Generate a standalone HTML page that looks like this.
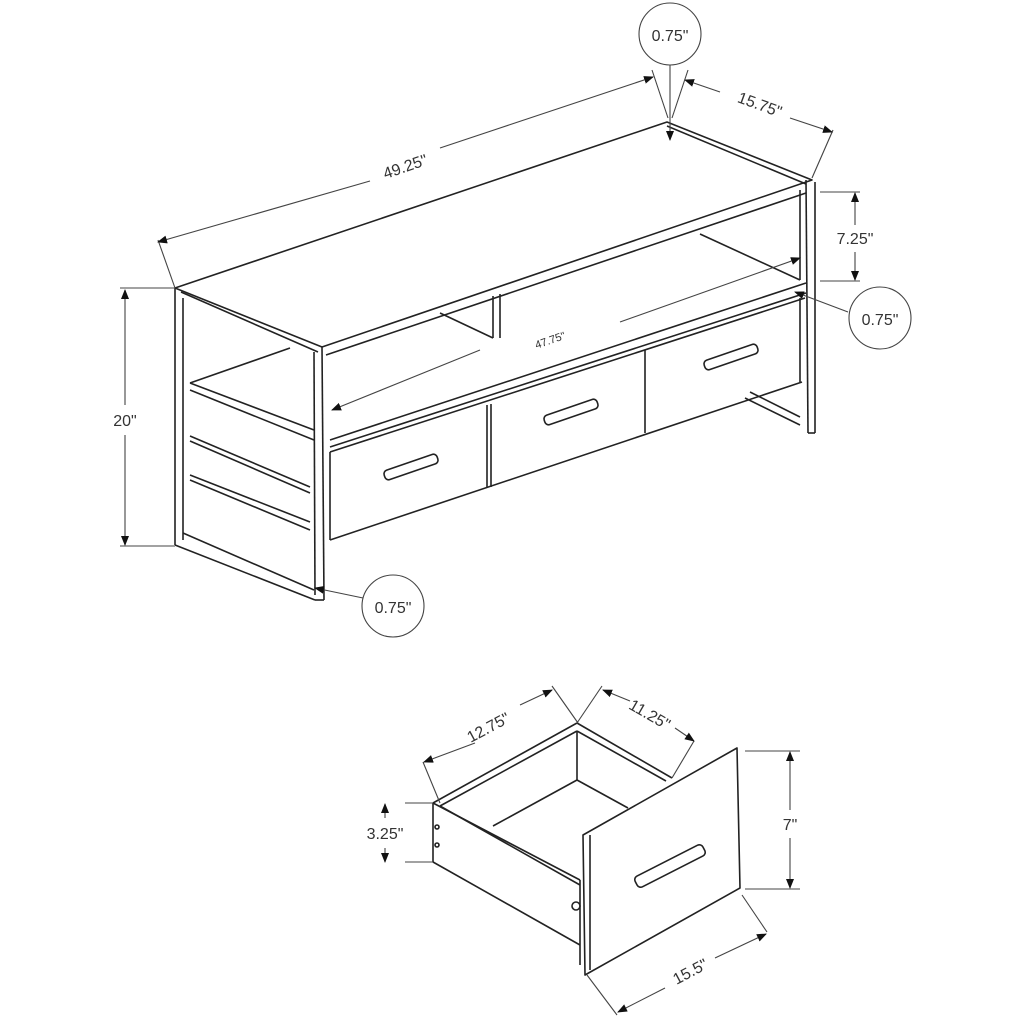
<!DOCTYPE html>
<html><head><meta charset="utf-8"><style>
html,body{margin:0;padding:0;background:#fff;}
svg{display:block}
text{font-family:"Liberation Sans",sans-serif;fill:#333;}
</style></head><body>
<svg width="1024" height="1024" viewBox="0 0 1024 1024" xmlns="http://www.w3.org/2000/svg">
<defs>
<marker id="a" markerWidth="10" markerHeight="8" refX="9" refY="4" orient="auto" markerUnits="userSpaceOnUse"><path d="M0,0 L10,4 L0,8z" fill="#111"/></marker>
</defs>
<g fill="none" stroke="#222" stroke-width="1.6" stroke-linejoin="round">
<polygon points="175,288 667,122 812,180 322,347" fill="#fff"/>
<line x1="667" y1="126" x2="806" y2="184"/>
<line x1="181" y1="292" x2="318" y2="352"/>
<line x1="326" y1="355" x2="806" y2="193"/>
<line x1="175" y1="288" x2="175" y2="545"/>
<line x1="183" y1="298" x2="183" y2="540"/>
<line x1="322" y1="347" x2="324" y2="600"/>
<line x1="314" y1="352" x2="315" y2="595"/>
<line x1="315" y1="600" x2="324" y2="600"/>
<line x1="175" y1="545" x2="315" y2="600"/>
<line x1="183" y1="533" x2="314" y2="590"/>
<line x1="190" y1="383" x2="290" y2="348"/>
<line x1="190" y1="383" x2="314" y2="430"/>
<line x1="190" y1="390" x2="314" y2="440"/>
<line x1="190" y1="436" x2="310" y2="487"/>
<line x1="190" y1="441" x2="310" y2="493"/>
<line x1="190" y1="475" x2="310" y2="522"/>
<line x1="190" y1="480" x2="310" y2="530"/>
<line x1="806" y1="180" x2="808" y2="433"/>
<line x1="815" y1="182" x2="815" y2="433"/>
<line x1="800" y1="190" x2="800" y2="280"/>
<line x1="808" y1="433" x2="815" y2="433"/>
<line x1="745" y1="398" x2="800" y2="425"/>
<line x1="750" y1="392" x2="800" y2="417"/>
<line x1="330" y1="440" x2="806" y2="283"/>
<line x1="330" y1="447" x2="806" y2="293"/>
<line x1="330" y1="452" x2="805" y2="298"/>
<line x1="700" y1="234" x2="800" y2="280"/>
<line x1="440" y1="313" x2="493" y2="338"/>
<line x1="493" y1="296" x2="493" y2="338"/>
<line x1="500" y1="294" x2="500" y2="338"/>
<line x1="330" y1="452" x2="330" y2="540"/>
<line x1="330" y1="540" x2="802" y2="382"/>
<line x1="487" y1="405" x2="487" y2="487"/>
<line x1="491" y1="404" x2="491" y2="487"/>
<line x1="645" y1="350" x2="645" y2="433"/>
<line x1="800" y1="298" x2="800" y2="382"/>
<rect x="383" y="462" width="56" height="10" rx="4" transform="rotate(-19 411 467)"/>
<rect x="543" y="407" width="56" height="10" rx="4" transform="rotate(-19 571 412)"/>
<rect x="703" y="352" width="56" height="10" rx="4" transform="rotate(-19 731 357)"/>
</g>
<g fill="none" stroke="#444" stroke-width="1.1">
<line x1="158" y1="240" x2="175" y2="288"/>
<line x1="370" y1="181" x2="158" y2="242" marker-end="url(#a)"/>
<line x1="440" y1="148" x2="653" y2="77" marker-end="url(#a)"/>
<line x1="812" y1="178" x2="833" y2="130"/>
<line x1="720" y1="92" x2="685" y2="80" marker-end="url(#a)"/>
<line x1="790" y1="118" x2="832" y2="132" marker-end="url(#a)"/>
<line x1="670" y1="65" x2="670" y2="140" marker-end="url(#a)"/>
<line x1="652" y1="70" x2="668" y2="118"/>
<line x1="688" y1="70" x2="672" y2="118"/>
<line x1="120" y1="288" x2="175" y2="288"/>
<line x1="120" y1="546" x2="175" y2="546"/>
<line x1="125" y1="405" x2="125" y2="290" marker-end="url(#a)"/>
<line x1="125" y1="435" x2="125" y2="545" marker-end="url(#a)"/>
<line x1="820" y1="192" x2="860" y2="192"/>
<line x1="820" y1="281" x2="860" y2="281"/>
<line x1="855" y1="225" x2="855" y2="193" marker-end="url(#a)"/>
<line x1="855" y1="252" x2="855" y2="280" marker-end="url(#a)"/>
<line x1="848" y1="312" x2="795" y2="292" marker-end="url(#a)"/>
<line x1="363" y1="598" x2="315" y2="588" marker-end="url(#a)"/>
<line x1="480" y1="350" x2="332" y2="410" marker-end="url(#a)"/>
<line x1="620" y1="322" x2="800" y2="258" marker-end="url(#a)"/>
<circle cx="670" cy="34" r="31" fill="#fff"/>
<circle cx="880" cy="318" r="31" fill="#fff"/>
<circle cx="393" cy="606" r="31" fill="#fff"/>
</g>
<text x="670" y="41" font-size="16" text-anchor="middle">0.75"</text>
<text x="880" y="325" font-size="16" text-anchor="middle">0.75"</text>
<text x="393" y="613" font-size="16" text-anchor="middle">0.75"</text>
<text x="125" y="426" font-size="16" text-anchor="middle">20"</text>
<text x="855" y="244" font-size="16" text-anchor="middle">7.25"</text>
<text x="405" y="172" font-size="16" text-anchor="middle" transform="rotate(-19 405 166)">49.25"</text>
<text x="760" y="110" font-size="16" text-anchor="middle" transform="rotate(20 760 104)">15.75"</text>
<text x="550" y="344" font-size="11" text-anchor="middle" transform="rotate(-19 550 340)">47.75"</text>

<g fill="none" stroke="#222" stroke-width="1.6" stroke-linejoin="round">
<polygon points="583,835 737,748 740,888 585,975" fill="#fff"/>
<line x1="590" y1="835" x2="590" y2="970"/>
<line x1="433" y1="803" x2="577" y2="723"/>
<line x1="440" y1="806" x2="577" y2="731"/>
<line x1="577" y1="723" x2="672" y2="778"/>
<line x1="577" y1="731" x2="666" y2="781"/>
<line x1="577" y1="731" x2="577" y2="780"/>
<line x1="577" y1="780" x2="628" y2="808"/>
<line x1="577" y1="780" x2="493" y2="826"/>
<line x1="433" y1="803" x2="433" y2="862"/>
<line x1="433" y1="803" x2="580" y2="880"/>
<line x1="440" y1="806" x2="580" y2="885"/>
<line x1="433" y1="862" x2="580" y2="945"/>
<line x1="580" y1="880" x2="580" y2="965"/>
<rect x="632" y="860" width="76" height="12" rx="4" transform="rotate(-27 670 866)"/>
<circle cx="576" cy="906" r="4"/>
<circle cx="437" cy="827" r="2"/><circle cx="437" cy="845" r="2"/>
</g>
<g fill="none" stroke="#444" stroke-width="1.1">
<line x1="423" y1="762" x2="440" y2="803"/>
<line x1="578" y1="723" x2="552" y2="686"/>
<line x1="475" y1="743" x2="424" y2="762" marker-end="url(#a)"/>
<line x1="520" y1="705" x2="552" y2="690" marker-end="url(#a)"/>
<line x1="577" y1="723" x2="602" y2="686"/>
<line x1="672" y1="778" x2="694" y2="741"/>
<line x1="630" y1="701" x2="603" y2="690" marker-end="url(#a)"/>
<line x1="675" y1="728" x2="694" y2="741" marker-end="url(#a)"/>
<line x1="405" y1="803" x2="433" y2="803"/>
<line x1="405" y1="862" x2="433" y2="862"/>
<line x1="385" y1="818" x2="385" y2="804" marker-end="url(#a)"/>
<line x1="385" y1="848" x2="385" y2="862" marker-end="url(#a)"/>
<line x1="745" y1="751" x2="800" y2="751"/>
<line x1="745" y1="889" x2="800" y2="889"/>
<line x1="790" y1="810" x2="790" y2="752" marker-end="url(#a)"/>
<line x1="790" y1="838" x2="790" y2="888" marker-end="url(#a)"/>
<line x1="742" y1="895" x2="767" y2="932"/>
<line x1="587" y1="975" x2="617" y2="1015"/>
<line x1="715" y1="958" x2="766" y2="934" marker-end="url(#a)"/>
<line x1="665" y1="988" x2="618" y2="1012" marker-end="url(#a)"/>
</g>
<text x="488" y="733" font-size="16" text-anchor="middle" transform="rotate(-28 488 727)">12.75"</text>
<text x="650" y="720" font-size="16" text-anchor="middle" transform="rotate(30 650 714)">11.25"</text>
<text x="385" y="839" font-size="16" text-anchor="middle">3.25"</text>
<text x="790" y="830" font-size="16" text-anchor="middle">7"</text>
<text x="690" y="977" font-size="16" text-anchor="middle" transform="rotate(-28 690 971)">15.5"</text>
</svg>
</body></html>
